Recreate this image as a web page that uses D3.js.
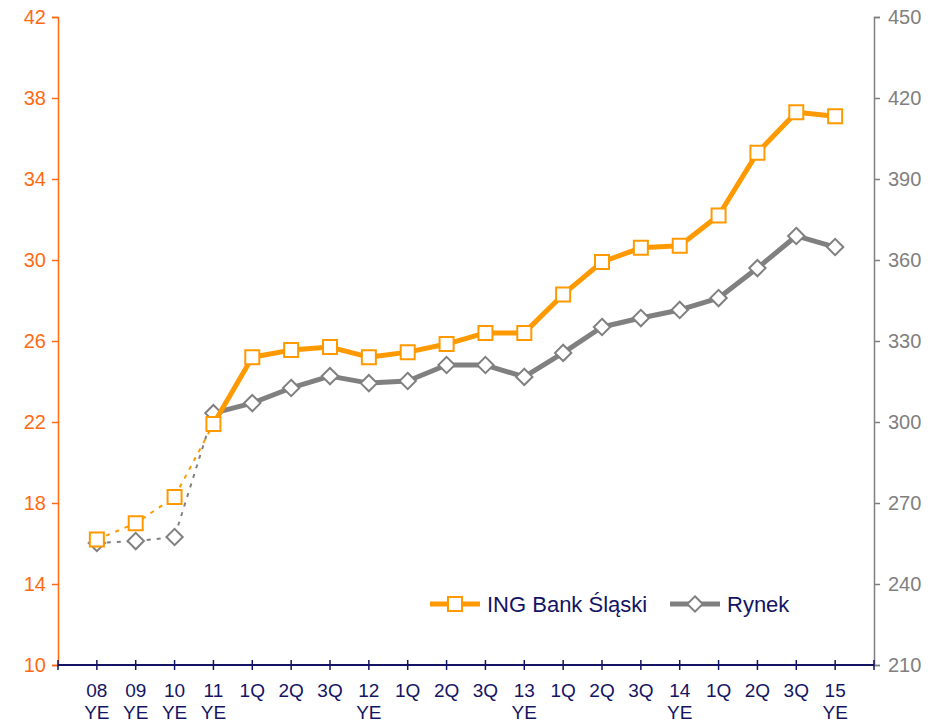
<!DOCTYPE html>
<html>
<head>
<meta charset="utf-8">
<script src="https://cdn.jsdelivr.net/npm/d3@7"></script>
<style>
  body { margin: 0; background: #fff; }
  text { font-family: "Liberation Sans", Arial, sans-serif; }
</style>
</head>
<body>
<svg width="932" height="723"></svg>
<script>
var periods = ['08', '09', '10', '11', '1Q', '2Q', '3Q', '12', '1Q', '2Q', '3Q', '13', '1Q', '2Q', '3Q', '14', '1Q', '2Q', '3Q', '15'];
var subLabels = ['YE', 'YE', 'YE', 'YE', '', '', '', 'YE', '', '', '', 'YE', '', '', '', 'YE', '', '', '', 'YE'];
var ingValues = [16.2, 17.0, 18.3, 21.9, 25.2, 25.55, 25.7, 25.2, 25.45, 25.85, 26.4, 26.4, 28.3, 29.9, 30.6, 30.7, 32.2, 35.3, 37.3, 37.1];
var rynekValues = [255.2, 255.9, 257.4, 303.3, 307, 312.6, 317, 314.4, 315.2, 321.1, 321.1, 316.7, 325.6, 335.2, 338.5, 341.5, 345.9, 357, 368.9, 364.8];
var leftTicks = [10, 14, 18, 22, 26, 30, 34, 38, 42];
var rightTicks = [210, 240, 270, 300, 330, 360, 390, 420, 450];
var dottedUntil = 3; // first points (annual) joined by dotted line

var svg = d3.select('svg');
var plotL = 58, plotR = 874, plotT = 17, plotB = 665;
var navy = '#141464', orange = '#ff9900', axisOrange = '#ff6a13', gray = '#808080';

var idx = d3.range(periods.length);
var x = d3.scalePoint().domain(idx).range([plotL, plotR]).padding(1);
var yL = d3.scaleLinear().domain([10, 42]).range([plotB, plotT]);
var yR = d3.scaleLinear().domain([210, 450]).range([plotB, plotT]);

// left axis
var gl = svg.append('g').attr('transform', 'translate(' + plotL + ',0)')
  .call(d3.axisLeft(yL).tickValues(leftTicks).tickSize(6).tickPadding(6));
gl.select('.domain').attr('stroke', axisOrange).attr('stroke-width', 1.5);
gl.selectAll('.tick line').attr('stroke', axisOrange).attr('stroke-width', 1.5);
gl.selectAll('.tick text').attr('fill', axisOrange).style('font-size', '20px');

// right axis
var gr = svg.append('g').attr('transform', 'translate(' + plotR + ',0)')
  .call(d3.axisRight(yR).tickValues(rightTicks).tickSize(6).tickPadding(8));
gr.select('.domain').attr('stroke', gray).attr('stroke-width', 1.5);
gr.selectAll('.tick line').attr('stroke', gray).attr('stroke-width', 1.5);
gr.selectAll('.tick text').attr('fill', gray).style('font-size', '20px');

// bottom axis
var step = x.step();
var tickPos = d3.range(periods.length + 2).map(function(i) { return plotL + i * step; });
var gb = svg.append('g');
gb.append('line').attr('x1', plotL).attr('x2', plotR).attr('y1', plotB).attr('y2', plotB)
  .attr('stroke', navy).attr('stroke-width', 2);
gb.selectAll('line.t').data(tickPos).enter().append('line').attr('class', 't')
  .attr('x1', function(d) { return d; }).attr('x2', function(d) { return d; })
  .attr('y1', plotB - 5).attr('y2', plotB + 5)
  .attr('stroke', navy).attr('stroke-width', 1.5);
var lab = gb.selectAll('g.lab').data(idx).enter().append('g')
  .attr('transform', function(i) { return 'translate(' + x(i) + ',0)'; });
lab.append('text').attr('y', 697).attr('text-anchor', 'middle').attr('fill', navy)
  .style('font-size', '19px').text(function(i) { return periods[i]; });
lab.append('text').attr('y', 719).attr('text-anchor', 'middle').attr('fill', navy)
  .style('font-size', '19px').text(function(i) { return subLabels[i]; });

function drawSeries(values, yScale, color, markerType) {
  var pts = values.map(function(v, i) { return [x(i), yScale(v)]; });
  var line = d3.line();
  svg.append('path').attr('d', line(pts.slice(0, dottedUntil + 1)))
    .attr('fill', 'none').attr('stroke', color).attr('stroke-width', 2)
    .attr('stroke-dasharray', '4,6');
  svg.append('path').attr('d', line(pts.slice(dottedUntil)))
    .attr('fill', 'none').attr('stroke', color).attr('stroke-width', 5)
    .attr('stroke-linejoin', 'round');
  var sym = markerType === 'square' ? d3.symbolSquare : d3.symbolDiamond2;
  var size = markerType === 'square' ? 196 : 170;
  svg.append('g').selectAll('path').data(pts).enter().append('path')
    .attr('d', d3.symbol().type(sym).size(size))
    .attr('transform', function(d) { return 'translate(' + d[0] + ',' + d[1] + ')'; })
    .attr('fill', '#fff').attr('stroke', color).attr('stroke-width', 2);
}

drawSeries(rynekValues, yR, gray, 'diamond');
drawSeries(ingValues, yL, orange, 'square');

// legend
var legend = [
  { name: 'ING Bank Śląski', color: orange, type: 'square', x: 430 },
  { name: 'Rynek', color: gray, type: 'diamond', x: 670 }
];
var lg = svg.append('g').selectAll('g').data(legend).enter().append('g')
  .attr('transform', function(d) { return 'translate(' + d.x + ',604)'; });
lg.append('line').attr('x1', 0).attr('x2', 50).attr('stroke', function(d) { return d.color; })
  .attr('stroke-width', 5);
lg.append('path')
  .attr('d', function(d) {
    return d3.symbol().type(d.type === 'square' ? d3.symbolSquare : d3.symbolDiamond2)
      .size(d.type === 'square' ? 196 : 150)();
  })
  .attr('transform', 'translate(25,0)')
  .attr('fill', '#fff').attr('stroke', function(d) { return d.color; }).attr('stroke-width', 2);
lg.append('text').attr('x', 57).attr('y', 8).attr('fill', navy).style('font-size', '22px')
  .text(function(d) { return d.name; });
</script>
</body>
</html>
